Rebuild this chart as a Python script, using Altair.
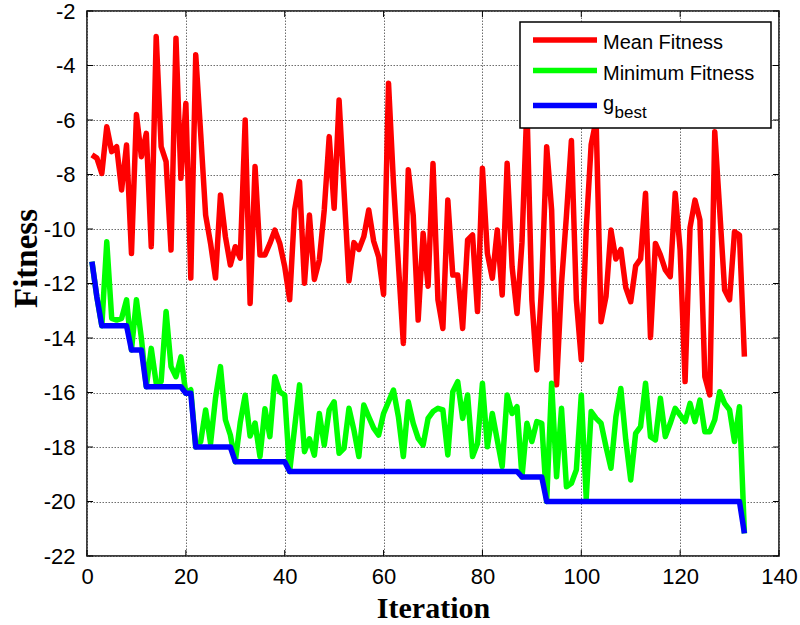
import altair as alt
import pandas as pd

# ---- data -------------------------------------------------------------
iteration = list(range(1, 134))

mean_fitness = [
    -7.28, -7.4, -7.96, -6.25, -7.16, -6.98, -8.57, -6.92, -10.9, -5.8,
    -7.35, -6.49, -10.65, -2.94, -6.98, -7.53, -10.77, -3.0, -8.14, -5.39,
    -11.8, -3.61, -6.5, -9.49, -10.53, -11.8, -8.75, -10.28, -11.32, -10.65,
    -11.07, -6.0, -12.73, -7.71, -10.95, -10.95, -10.53, -10.04, -10.53, -11.38,
    -12.6, -9.3, -8.26, -11.99, -9.49, -11.85, -11.14, -9.3, -6.61, -9.24,
    -5.27, -8.6, -11.9, -10.5, -10.75, -10.28, -9.3, -10.45, -11.02, -12.4,
    -4.65, -8.3, -11.3, -14.2, -7.83, -9.5, -13.34, -10.16, -12.1, -7.6,
    -12.6, -13.65, -8.94, -11.69, -11.69, -13.65, -10.4, -10.22, -13.03, -7.77,
    -10.89, -11.81, -10.04, -12.42, -7.59, -11.38, -13.1, -10.5, -5.5, -12.6,
    -15.17, -12.0, -6.98, -9.3, -15.72, -12.0, -9.5, -6.75, -12.6, -14.8,
    -10.0, -6.9, -6.0, -13.4, -12.48, -10.04, -11.1, -10.75, -12.15, -12.67,
    -11.35, -11.1, -8.69, -13.98, -10.53, -10.95, -11.5, -11.75, -8.69, -10.77,
    -15.6, -9.95, -8.94, -9.67, -15.42, -16.09, -6.43, -9.3, -12.24, -12.6,
    -10.1, -10.22, -14.68,
]

minimum_fitness = [
    -11.2, -12.5, -13.55, -10.47, -13.28, -13.34, -13.28, -12.6, -14.44, -12.6,
    -14.0, -15.79, -14.38, -15.66, -15.6, -13.03, -15.05, -15.42, -14.69, -16.03,
    -15.9, -18.0, -17.8, -16.64, -17.87, -16.2, -15.05, -17.0, -17.56, -18.54,
    -17.1, -16.1, -17.6, -17.12, -18.35, -16.6, -17.62, -15.42, -15.97, -16.1,
    -18.9, -17.3, -15.72, -18.17, -17.7, -18.3, -16.77, -17.93, -16.64, -16.34,
    -18.23, -18.05, -16.58, -17.38, -18.35, -16.46, -16.89, -17.31, -17.56, -16.77,
    -16.34, -15.91, -16.89, -18.35, -16.34, -17.13, -17.68, -17.93, -16.95, -16.7,
    -16.58, -16.64, -18.29, -15.97, -15.6, -16.95, -16.09, -18.35, -17.87, -15.66,
    -17.99, -16.77, -17.74, -18.72, -16.09, -16.77, -16.52, -19.1, -17.13, -17.8,
    -17.07, -17.13, -20.0, -15.66, -19.09, -16.58, -19.46, -19.33, -18.84, -16.09,
    -19.88, -16.7, -16.95, -17.13, -17.99, -18.78, -16.89, -15.85, -17.74, -19.21,
    -17.5, -17.25, -15.66, -17.62, -17.74, -16.21, -17.62, -17.13, -16.58, -16.83,
    -17.07, -16.4, -17.07, -16.28, -17.44, -17.44, -17.0, -15.97, -16.4, -16.64,
    -17.8, -16.52, -21.17,
]

g_best = [
    -11.2, -12.5, -13.55, -13.55, -13.55, -13.55, -13.55, -13.55, -14.44, -14.44,
    -14.44, -15.79, -15.79, -15.79, -15.79, -15.79, -15.79, -15.79, -15.79, -16.03,
    -16.03, -18.0, -18.0, -18.0, -18.0, -18.0, -18.0, -18.0, -18.0, -18.54,
    -18.54, -18.54, -18.54, -18.54, -18.54, -18.54, -18.54, -18.54, -18.54, -18.54,
    -18.9, -18.9, -18.9, -18.9, -18.9, -18.9, -18.9, -18.9, -18.9, -18.9,
    -18.9, -18.9, -18.9, -18.9, -18.9, -18.9, -18.9, -18.9, -18.9, -18.9,
    -18.9, -18.9, -18.9, -18.9, -18.9, -18.9, -18.9, -18.9, -18.9, -18.9,
    -18.9, -18.9, -18.9, -18.9, -18.9, -18.9, -18.9, -18.9, -18.9, -18.9,
    -18.9, -18.9, -18.9, -18.9, -18.9, -18.9, -18.9, -19.1, -19.1, -19.1,
    -19.1, -19.1, -20.0, -20.0, -20.0, -20.0, -20.0, -20.0, -20.0, -20.0,
    -20.0, -20.0, -20.0, -20.0, -20.0, -20.0, -20.0, -20.0, -20.0, -20.0,
    -20.0, -20.0, -20.0, -20.0, -20.0, -20.0, -20.0, -20.0, -20.0, -20.0,
    -20.0, -20.0, -20.0, -20.0, -20.0, -20.0, -20.0, -20.0, -20.0, -20.0,
    -20.0, -20.0, -21.17,
]

x_ticks = [0, 20, 40, 60, 80, 100, 120, 140]
y_ticks = [-22, -20, -18, -16, -14, -12, -10, -8, -6, -4, -2]

series_names = ["Mean Fitness", "Minimum Fitness", "g"]
series_sub = "best"
series_colors = ["#ff0000", "#00ff00", "#0000ff"]

# ---- layout -----------------------------------------------------------
W, H = 692, 545
SANS = "Liberation Sans"
SERIF = "Liberation Serif"

df = pd.DataFrame({
    "Iteration": iteration,
    "Mean": mean_fitness,
    "Min": minimum_fitness,
    "Best": g_best,
})

x_scale = alt.Scale(domain=[0, 140], nice=False, zero=False)
y_scale = alt.Scale(domain=[-22, -2], nice=False, zero=False)

grid_style = dict(grid=True, gridDash=[1.5, 1.5], gridColor="#6e6e6e",
                  gridWidth=1, gridOpacity=1, ticks=False, domain=False,
                  labelFont=SANS, labelFontSize=22, labelColor="black",
                  labelExpr="'' + datum.value", labelFlush=False,
                  titleFont=SERIF, titleFontWeight="bold", titleColor="black")

x_axis = alt.Axis(values=x_ticks, title="Iteration", labelPadding=10,
                  titleFontSize=30, titleY=52, titleBaseline="middle",
                  **grid_style)
y_axis = alt.Axis(values=y_ticks, title="Fitness", labelPadding=12,
                  titleFontSize=33, titleX=-61, titleY=247, titleAngle=270,
                  titleAlign="center", titleBaseline="middle", **grid_style)


def X(field):
    return alt.X(f"{field}:Q", scale=x_scale, axis=x_axis)


def Y(field):
    return alt.Y(f"{field}:Q", scale=y_scale, axis=y_axis)


base = alt.Chart(df)


def series_line(field, color):
    return base.mark_line(color=color, strokeWidth=5.5, strokeJoin="round").encode(
        x=X("Iteration"), y=Y(field))


mean_line = series_line("Mean", series_colors[0])
min_line = series_line("Min", series_colors[1])
best_line = series_line("Best", series_colors[2])

# inward-facing tick marks on all four sides of the box
xt = alt.Chart(pd.DataFrame({"Iteration": x_ticks}))
yt = alt.Chart(pd.DataFrame({"Mean": y_ticks}))
tick_kw = dict(color="black", strokeWidth=1)
ticks_bottom = xt.mark_rule(**tick_kw).encode(
    x=X("Iteration"), y=alt.value(H), y2=alt.value(H - 6))
ticks_top = xt.mark_rule(**tick_kw).encode(
    x=X("Iteration"), y=alt.value(0), y2=alt.value(6))
ticks_left = yt.mark_rule(**tick_kw).encode(
    y=Y("Mean"), x=alt.value(0), x2=alt.value(6))
ticks_right = yt.mark_rule(**tick_kw).encode(
    y=Y("Mean"), x=alt.value(W - 6), x2=alt.value(W))

# legend box drawn on top of the lines
one = alt.Chart(pd.DataFrame({"k": [0]}))
legend_box = one.mark_rect(fill="white", stroke="black", strokeWidth=1.5).encode(
    x=alt.value(433), x2=alt.value(684), y=alt.value(11), y2=alt.value(117))

legend_rows = [29, 59.5, 94.5]
legend_text_y = [38, 69, 99]
legend_layers = [legend_box]
for name, color, ry, ty in zip(series_names, series_colors, legend_rows, legend_text_y):
    legend_layers.append(one.mark_rule(color=color, strokeWidth=5.5).encode(
        x=alt.value(446), x2=alt.value(510), y=alt.value(ry)))
    legend_layers.append(one.mark_text(
        text=name, align="left", baseline="alphabetic", font=SANS,
        fontSize=20, color="black").encode(x=alt.value(516), y=alt.value(ty)))
legend_layers.append(one.mark_text(
    text=series_sub, align="left", baseline="alphabetic", font=SANS,
    fontSize=17, color="black").encode(x=alt.value(527.5), y=alt.value(107)))

chart = alt.layer(
    mean_line, min_line, best_line,
    ticks_bottom, ticks_top, ticks_left, ticks_right,
    *legend_layers,
).properties(
    width=W, height=H,
    padding={"left": 87, "top": 11, "right": 21, "bottom": 69},
    autosize=alt.AutoSizeParams(type="none"),
    background="white",
).configure_view(stroke="black", strokeWidth=1.5)

chart.save("out.html", embed_options={"renderer": "svg", "actions": False})
